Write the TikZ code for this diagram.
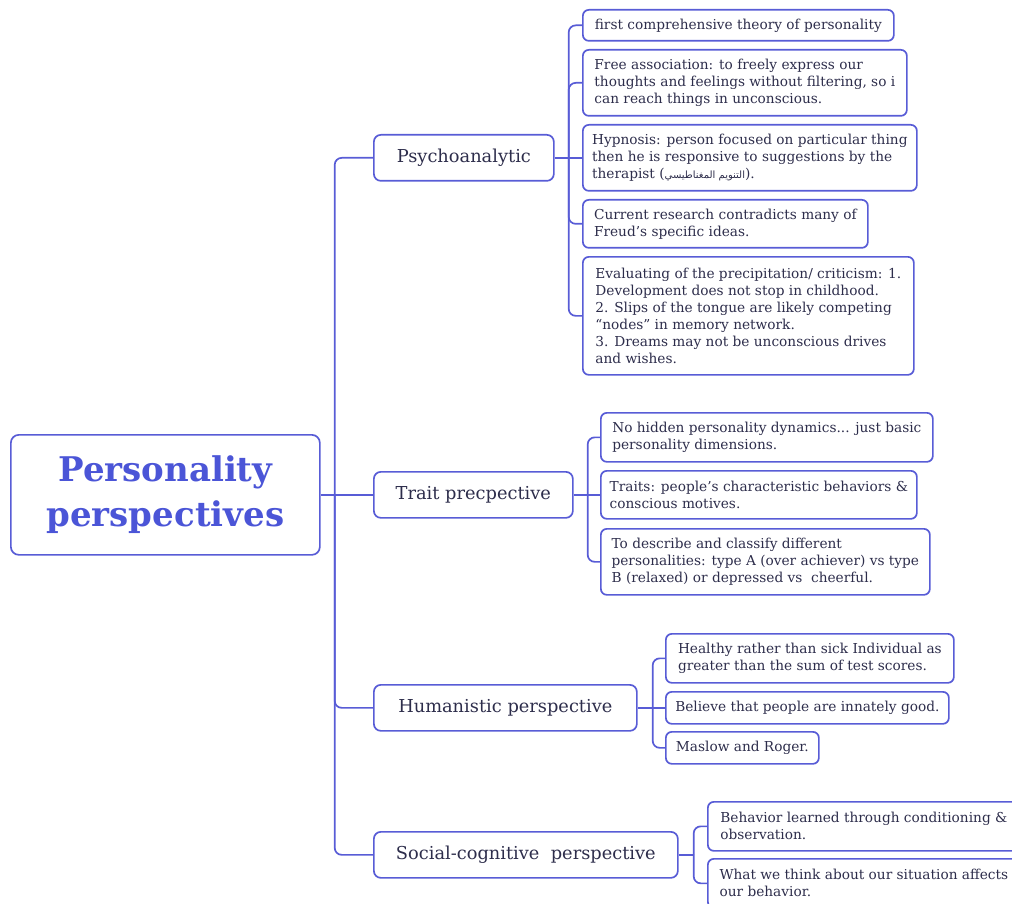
\documentclass[tikz,border=0pt]{standalone}
\usepackage{fontspec}
\setmainfont{DejaVu Serif}
\newfontfamily\arabicfont[Script=Arabic]{DejaVu Sans}
\TeXXeTstate=1
\definecolor{lineblue}{RGB}{88,92,214}
\definecolor{rootblue}{RGB}{75,85,215}
\definecolor{inkgrey}{RGB}{45,45,75}
\tikzset{
	root/.style={draw=lineblue, line width=1.7pt, rounded corners=8pt, anchor=north west, align=center, text=rootblue, font=\fontsize{34}{45}\selectfont\bfseries},
	branch/.style={draw=lineblue, line width=1.7pt, rounded corners=7pt, anchor=north west, minimum height=46pt, text=inkgrey, font=\fontsize{17.8}{20}\selectfont},
	leaf/.style={draw=lineblue, line width=1.7pt, rounded corners=6pt, anchor=north west, align=left, text=inkgrey, font=\fontsize{13.7}{17}\selectfont},
	link/.style={draw=lineblue, line width=1.7pt, rounded corners=7pt}
}
\begin{document}
\begin{tikzpicture}[x=1pt,y=-1pt]
		\useasboundingbox (0,0) rectangle (1012,904);
		\clip (0,0) rectangle (1012,904);
		% centre and main branches
		\node[root, minimum width=309pt, minimum height=120pt] (root) at (10,434) {Personality\\perspectives};
		\node[branch, minimum width=180pt] (psy) at (373,134) {Psychoanalytic};
		\node[branch, minimum width=199pt] (trait) at (373,471) {Trait precpective};
		\node[branch, minimum width=263pt] (human) at (373,684) {Humanistic perspective};
		\node[branch, minimum width=304pt] (social) at (373,831) {Social-cognitive\ \ perspective};
		\coordinate (rj) at ([xshift=14pt]root.east);
		\coordinate (pj) at ([xshift=14pt]psy.east);
		\coordinate (tj) at ([xshift=14pt]trait.east);
		\coordinate (hj) at ([xshift=15pt]human.east);
		\coordinate (sj) at ([xshift=15pt]social.east);
		% psychoanalytic
		\node[leaf, minimum width=311pt, minimum height=31pt] (p1) at (582,9) {first comprehensive theory of personality};
		\node[leaf, minimum width=324pt, minimum height=66pt] (p2) at (582,49) {Free association: to freely express our\\thoughts and feelings without filtering, so i\\can reach things in unconscious.};
		\node[leaf, minimum width=334pt, minimum height=66pt] (p3) at (582,124) {Hypnosis: person focused on particular thing\\then he is responsive to suggestions by the\\therapist ({\arabicfont\fontsize{10}{17}\selectfont\beginR التنويم المغناطيسي\endR}).};
		\node[leaf, minimum width=285pt, minimum height=48pt] (p4) at (582,199) {Current research contradicts many of\\Freud’s specific ideas.};
		\node[leaf, minimum width=331pt, minimum height=118pt] (p5) at (582,256) {Evaluating of the precipitation/ criticism: 1.\\Development does not stop in childhood.\\2. Slips of the tongue are likely competing\\“nodes” in memory network.\\3. Dreams may not be unconscious drives\\and wishes.};
		% trait
		\node[leaf, minimum width=332pt, minimum height=49pt] (t1) at (600,412) {No hidden personality dynamics... just basic\\personality dimensions.};
		\node[leaf, minimum width=316pt, minimum height=48pt] (t2) at (600,470) {Traits: people’s characteristic behaviors \&\\conscious motives.};
		\node[leaf, minimum width=329pt, minimum height=66pt] (t3) at (600,528) {To describe and classify different\\personalities: type A (over achiever) vs type\\B (relaxed) or depressed vs\ \ cheerful.};
		% humanistic
		\node[leaf, minimum width=288pt, minimum height=49pt] (h1) at (665,633) {Healthy rather than sick Individual as\\greater than the sum of test scores.};
		\node[leaf, minimum width=283pt, minimum height=32pt] (h2) at (665,691) {Believe that people are innately good.};
		\node[leaf, minimum width=153pt, minimum height=32pt] (h3) at (665,731) {Maslow and Roger.};
		% social-cognitive
		\node[leaf, minimum width=312pt, minimum height=49pt] (s1) at (707,801) {Behavior learned through conditioning \&\\observation.};
		\node[leaf, minimum width=312pt, minimum height=49pt] (s2) at (707,858) {What we think about our situation affects\\our behavior.};
		% connectors
		\draw[link] (root.east) -- (rj);
		\draw[link] (rj) |- (psy.west);
		\draw[link] (rj) -- (trait.west);
		\draw[link] (rj) |- (human.west);
		\draw[link] (rj) |- (social.west);
		\draw[link] (psy.east) -- (pj);
		\draw[link] (pj) |- (p1.west);
		\draw[link] (pj) |- (p2.west);
		\draw[link] (pj) -- (p3.west);
		\draw[link] (pj) |- (p4.west);
		\draw[link] (pj) |- (p5.west);
		\draw[link] (trait.east) -- (tj);
		\draw[link] (tj) |- (t1.west);
		\draw[link] (tj) -- (t2.west);
		\draw[link] (tj) |- (t3.west);
		\draw[link] (human.east) -- (hj);
		\draw[link] (hj) |- (h1.west);
		\draw[link] (hj) -- (h2.west);
		\draw[link] (hj) |- (h3.west);
		\draw[link] (social.east) -- (sj);
		\draw[link] (sj) |- (s1.west);
		\draw[link] (sj) |- (s2.west);
	\end{tikzpicture}
\end{document}
